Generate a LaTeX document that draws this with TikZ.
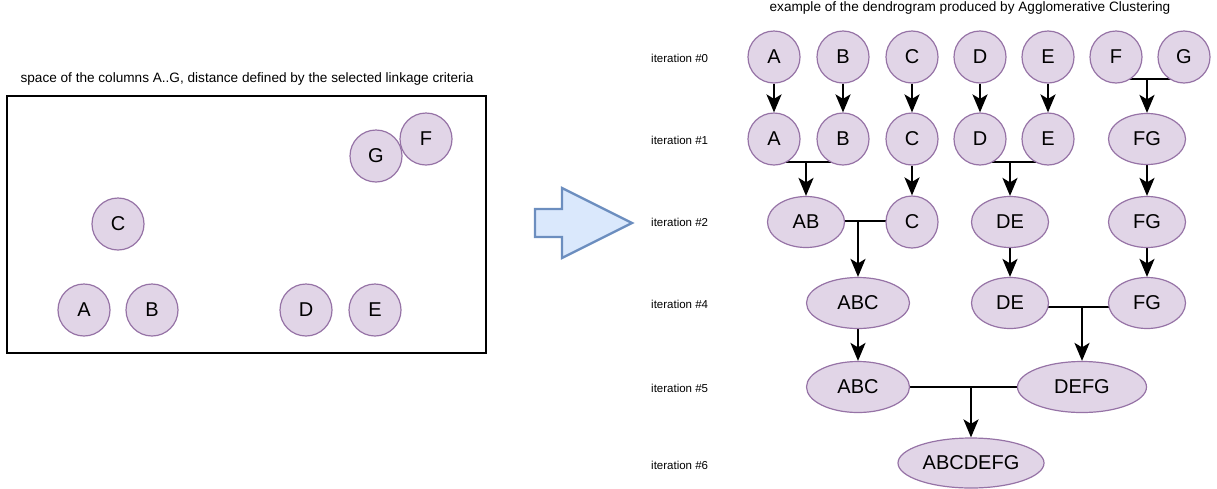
\documentclass[tikz,border=0pt]{standalone}
\usepackage{fontspec}
\setmainfont{Liberation Sans}
\usetikzlibrary{shapes.geometric,arrows.meta,backgrounds}

\definecolor{clfill}{HTML}{E1D5E7}
\definecolor{clline}{HTML}{9673A6}
\definecolor{blkfill}{HTML}{DAE8FC}
\definecolor{blkline}{HTML}{6C8EBF}

\tikzset{
  pt/.style={circle, draw=clline, fill=clfill, line width=1.2pt,
    minimum size=52pt, inner sep=0pt, font=\fontsize{20}{24}\selectfont},
  cl/.style={ellipse, draw=clline, fill=clfill, line width=1.2pt,
    minimum height=51pt, inner sep=0pt, font=\fontsize{20}{24}\selectfont},
  itlabel/.style={anchor=west, inner sep=0pt, font=\fontsize{11.5}{14}\selectfont},
  caption/.style={inner sep=0pt, font=\fontsize{13.6}{16}\selectfont},
  arr/.style={line width=2.2pt, -{Stealth[length=18pt,width=15pt,inset=4.5pt]}},
  bar/.style={line width=1.5pt},
}

\begin{document}
\begin{tikzpicture}[x=1pt,y=-1pt]
\useasboundingbox (0,0) rectangle (1217,488);

% ---- column space ----
\node[caption] (spacetitle) at (247,79) {space of the columns A..G, distance defined by the selected linkage criteria};
\draw[line width=1.5pt] (7,96) rectangle (486,353);
\node[pt] (sA) at (84,310) {A};
\node[pt] (sB) at (152,310) {B};
\node[pt] (sC) at (118,224) {C};
\node[pt] (sD) at (306,310) {D};
\node[pt] (sE) at (375,310) {E};
\node[pt] (sF) at (426,139) {F};
\node[pt] (sG) at (376,156) {G};

% ---- block arrow ----
\draw[line width=2.4pt, draw=blkline, fill=blkfill, line join=miter]
  (535,209) -- (562,209) -- (562,188) -- (632,223) -- (562,258) -- (562,237) -- (535,237) -- cycle;

% ---- dendrogram ----
\node[caption] (dtitle) at (970,8) {example of the dendrogram produced by Agglomerative Clustering};

\node[itlabel] (it0) at (651,58) {iteration \#0};
\node[itlabel] (it1) at (651,140) {iteration \#1};
\node[itlabel] (it2) at (651,222) {iteration \#2};
\node[itlabel] (it4) at (651,304) {iteration \#4};
\node[itlabel] (it5) at (651,388) {iteration \#5};
\node[itlabel] (it6) at (651,465) {iteration \#6};

% iteration 0
\node[pt] (A0) at (774,57) {A};
\node[pt] (B0) at (843,57) {B};
\node[pt] (C0) at (912,57) {C};
\node[pt] (D0) at (980,57) {D};
\node[pt] (E0) at (1048,57) {E};
\node[pt] (F0) at (1116,57) {F};
\node[pt] (G0) at (1184,57) {G};
% iteration 1
\node[pt] (A1) at (774,139) {A};
\node[pt] (B1) at (843,139) {B};
\node[pt] (C1) at (912,139) {C};
\node[pt] (D1) at (980,139) {D};
\node[pt] (E1) at (1048,139) {E};
\node[cl, minimum width=77pt] (FG1) at (1147,139) {FG};
% iteration 2
\node[cl, minimum width=77pt] (AB2) at (806,222) {AB};
\node[pt] (C2) at (912,222) {C};
\node[cl, minimum width=77pt] (DE2) at (1010,222) {DE};
\node[cl, minimum width=77pt] (FG2) at (1147,222) {FG};
% iteration 4
\node[cl, minimum width=103pt] (ABC4) at (858,303) {ABC};
\node[cl, minimum width=77pt] (DE4) at (1010,303) {DE};
\node[cl, minimum width=77pt] (FG4) at (1147,303) {FG};
% iteration 5
\node[cl, minimum width=103pt] (ABC5) at (858,387) {ABC};
\node[cl, minimum width=129pt] (DEFG5) at (1082,387) {DEFG};
% iteration 6
\node[cl, minimum width=146pt, minimum height=50pt] (ALL6) at (971,463) {ABCDEFG};

% merge points, each straight above the merged cluster
\coordinate (jFG) at (FG1.center |- 0,79);
\coordinate (jAB) at (AB2.center |- 0,162);
\coordinate (jDE) at (DE2.center |- 0,162);
\coordinate (jABC) at (ABC4.center |- 0,221);
\coordinate (jDEFG) at (DEFG5.center |- 0,307);
\coordinate (jALL) at (ALL6.center |- 0,387);

\begin{pgfonlayer}{background}
  % carried over unchanged
  \foreach \n in {A,B,C,D,E}
    \draw[arr] (\n0.south) -- (\n1.north);
  \draw[arr] (C1.south) -- (C2.north);
  \draw[arr] (FG1.south) -- (FG2.north);
  \draw[arr] (DE2.south) -- (DE4.north);
  \draw[arr] (FG2.south) -- (FG4.north);
  \draw[arr] (ABC4.south) -- (ABC5.north);
  % merges
  \draw[bar] (F0.center |- jFG) -- (G0.center |- jFG);
  \draw[arr] (jFG) -- (FG1.north);
  \draw[bar] (A1.center |- jAB) -- (B1.center |- jAB);
  \draw[arr] (jAB) -- (AB2.north);
  \draw[bar] (D1.center |- jDE) -- (E1.center |- jDE);
  \draw[arr] (jDE) -- (DE2.north);
  \draw[bar] (AB2.center |- jABC) -- (C2.center |- jABC);
  \draw[arr] (jABC) -- (ABC4.north);
  \draw[bar] (DE4.center |- jDEFG) -- (FG4.center |- jDEFG);
  \draw[arr] (jDEFG) -- (DEFG5.north);
  \draw[bar] (ABC5.center) -- (DEFG5.center);
  \draw[arr] (jALL) -- (ALL6.north);
\end{pgfonlayer}
\end{tikzpicture}
\end{document}
